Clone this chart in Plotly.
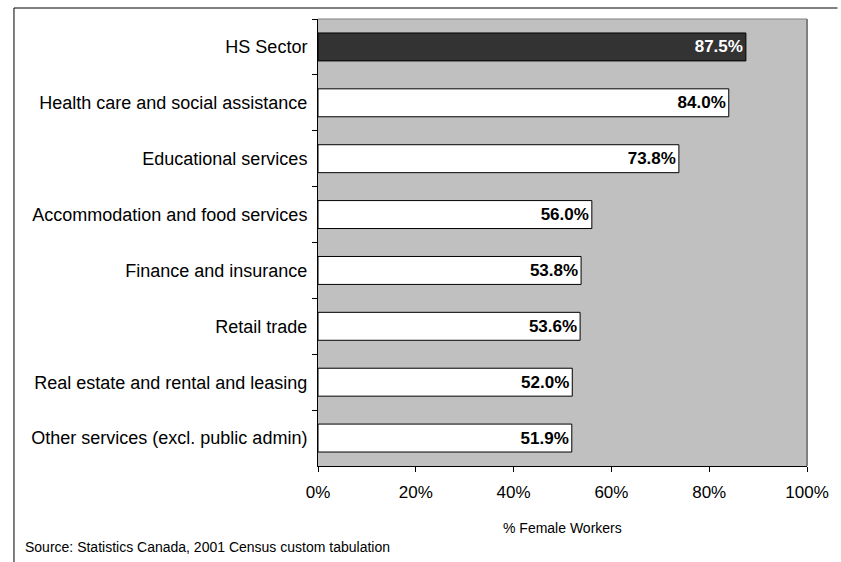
import plotly.graph_objects as go

# Share of female workers by industry (top to bottom)
industries = [
    "HS Sector",
    "Health care and social assistance",
    "Educational services",
    "Accommodation and food services",
    "Finance and insurance",
    "Retail trade",
    "Real estate and rental and leasing",
    "Other services (excl. public admin)",
]
female_pct = [87.5, 84.0, 73.8, 56.0, 53.8, 53.6, 52.0, 51.9]
x_ticks = [0, 20, 40, 60, 80, 100]
x_tick_labels = ["0%", "20%", "40%", "60%", "80%", "100%"]

FONT = "Arial, Liberation Sans, sans-serif"
W, H = 841, 562
L, R, T, B = 318, 815, 19, 466  # plot area in pixels

fill = ["#333333" if i == 0 else "#FFFFFF" for i in range(len(industries))]
text_col = ["#FFFFFF" if i == 0 else "#000000" for i in range(len(industries))]

fig = go.Figure(
    go.Bar(
        x=female_pct,
        y=industries,
        orientation="h",
        marker=dict(color=fill, line=dict(color="#000000", width=1)),
        text=[f"{v:.1f}%" for v in female_pct],
        textposition="inside",
        insidetextanchor="end",
        textangle=0,
        textfont=dict(family=FONT, size=17, color=text_col, weight="bold"),
        cliponaxis=False,
        hoverinfo="skip",
    )
)

pw, ph = R - L, B - T


def px_x(px):
    return (px - L) / pw


def px_y(py):
    return (B - py) / ph


fig.update_layout(
    width=W,
    height=H,
    margin=dict(l=L, r=W - R, t=T, b=H - B),
    paper_bgcolor="#FFFFFF",
    plot_bgcolor="#C0C0C0",
    bargap=0.5,
    showlegend=False,
    font=dict(family=FONT, color="#000000"),
    xaxis=dict(
        range=[0, 100],
        tickvals=x_ticks,
        ticktext=x_tick_labels,
        ticks="outside",
        ticklen=5,
        tickcolor="#000000",
        showgrid=False,
        zeroline=False,
        showline=True,
        linecolor="#000000",
        linewidth=1,
        tickfont=dict(family=FONT, size=17, color="#000000"),
        ticklabelstandoff=6,
        fixedrange=True,
    ),
    yaxis=dict(
        categoryorder="array",
        categoryarray=industries,
        autorange="reversed",
        ticks="outside",
        tickson="boundaries",
        ticklen=5,
        tickcolor="#000000",
        showgrid=False,
        zeroline=False,
        showline=True,
        linecolor="#000000",
        linewidth=1,
        tickfont=dict(family=FONT, size=18, color="#000000"),
        ticklabelstandoff=6,
        fixedrange=True,
    ),
    shapes=[
        # gray border of the plot area (top and right)
        dict(type="line", xref="paper", yref="paper", x0=0, x1=1, y0=1, y1=1,
             line=dict(color="#808080", width=1)),
        dict(type="line", xref="paper", yref="paper", x0=1, x1=1, y0=0, y1=1,
             line=dict(color="#808080", width=2)),
        # outer chart frame
        dict(type="line", xref="paper", yref="paper",
             x0=px_x(9), x1=px_x(W + 5), y0=px_y(8), y1=px_y(8),
             line=dict(color="#000000", width=1)),
        dict(type="line", xref="paper", yref="paper",
             x0=px_x(9), x1=px_x(9), y0=px_y(8), y1=px_y(H + 5),
             line=dict(color="#000000", width=1)),
    ],
    annotations=[
        dict(text="% Female Workers", xref="paper", yref="paper",
             x=0.5, y=px_y(528), xanchor="center", yanchor="middle",
             showarrow=False, font=dict(family=FONT, size=14, color="#000000")),
        dict(text="Source: Statistics Canada, 2001 Census custom tabulation",
             xref="paper", yref="paper", x=px_x(18), y=px_y(547),
             xanchor="left", yanchor="middle", showarrow=False,
             font=dict(family=FONT, size=14, color="#000000")),
    ],
)

fig.write_html("out.html")
